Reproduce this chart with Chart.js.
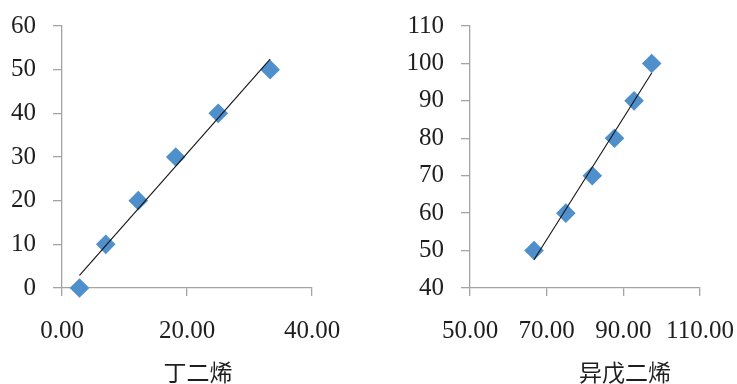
<!DOCTYPE html>
<html>
<head>
<meta charset="utf-8">
<script src="https://cdn.jsdelivr.net/npm/chart.js@4/dist/chart.umd.min.js"></script>
<style>
  html, body { margin: 0; padding: 0; background: #fff; }
  #wrap { position: relative; width: 737px; height: 384px; overflow: hidden; }
  .panel { position: absolute; top: 0; }
</style>
</head>
<body>
<div id="wrap">
  <div class="panel" style="left:0;"><canvas id="c1" width="368" height="384"></canvas></div>
  <div class="panel" style="left:368px;"><canvas id="c2" width="369" height="384"></canvas></div>
</div>
<script>
// 丁二烯 panel
const butadieneX = [2.8, 7.0, 12.2, 18.2, 25.0, 33.3];
const butadieneY = [0, 10, 20, 30, 40, 50];
const butadieneTitle = '丁二烯';

// 异戊二烯 panel
const isopreneX = [66.7, 75.0, 81.9, 87.7, 92.8, 97.4];
const isopreneY = [50, 60, 70, 80, 90, 100];
const isopreneTitle = '异戊二烯';

const AXIS_GREY = '#a3a3a3';
const TEXT = '#1e1e1e';
const MARKER = '#4f8fcc';

// Least-squares linear trendline across the data range
function trend(xs, ys) {
  const n = xs.length;
  const mx = xs.reduce((a, b) => a + b, 0) / n;
  const my = ys.reduce((a, b) => a + b, 0) / n;
  let sxy = 0, sxx = 0;
  for (let i = 0; i < n; i++) {
    sxy += (xs[i] - mx) * (ys[i] - my);
    sxx += (xs[i] - mx) * (xs[i] - mx);
  }
  const k = sxy / sxx, b = my - k * mx;
  const x0 = Math.min(...xs), x1 = Math.max(...xs);
  return [{ x: x0, y: k * x0 + b }, { x: x1, y: k * x1 + b }];
}

// Draws the category name under the x axis
const axisNamePlugin = {
  id: 'axisName',
  afterDraw(chart, args, opts) {
    const { ctx, chartArea } = chart;
    ctx.save();
    ctx.font = '23px "Noto Sans CJK SC"';
    ctx.fillStyle = TEXT;
    ctx.textAlign = 'center';
    ctx.textBaseline = 'middle';
    const x = chartArea.left + (chartArea.right - chartArea.left) * opts.frac;
    ctx.fillText(opts.text, x, opts.y);
    ctx.restore();
  }
};

function makeChart(id, xs, ys, title, xr, yr, yAxisWidth, rightPad, topPad, titleFrac) {
  const pts = xs.map((x, i) => ({ x, y: ys[i] }));
  return new Chart(document.getElementById(id), {
    type: 'scatter',
    data: {
      datasets: [
        {
          data: trend(xs, ys),
          showLine: true,
          borderColor: '#111',
          borderWidth: 1.1,
          pointRadius: 0,
          clip: false,
          order: 0
        },
        {
          data: pts,
          pointStyle: 'rectRot',
          pointRadius: 9.8,
          pointHoverRadius: 9.8,
          backgroundColor: MARKER,
          borderColor: MARKER,
          borderWidth: 0,
          clip: false,
          order: 1
        }
      ]
    },
    options: {
      responsive: false,
      animation: false,
      devicePixelRatio: 1,
      layout: { padding: { left: 0, right: rightPad, top: topPad, bottom: 0 } },
      plugins: {
        legend: { display: false },
        tooltip: { enabled: false },
        axisName: { text: title, frac: titleFrac, y: 372 }
      },
      scales: {
        x: {
          type: 'linear',
          min: xr[0], max: xr[1],
          afterFit(s) { s.height = 96; s.paddingLeft = 0; s.paddingRight = 0; },
          border: { display: true, color: AXIS_GREY, width: 1.3 },
          grid: { drawOnChartArea: false, drawTicks: true, tickLength: 8, color: AXIS_GREY, lineWidth: 1.3 },
          ticks: {
            stepSize: xr[2],
            padding: 20,
            color: TEXT,
            maxRotation: 0,
            font: { family: '"Liberation Serif"', size: 25 },
            callback: v => Number(v).toFixed(2)
          }
        },
        y: {
          type: 'linear',
          min: yr[0], max: yr[1],
          afterFit(s) { s.width = yAxisWidth; s.paddingTop = 0; s.paddingBottom = 0; },
          border: { display: true, color: AXIS_GREY, width: 1.3 },
          grid: { drawOnChartArea: false, drawTicks: true, tickLength: 9, color: AXIS_GREY, lineWidth: 1.3 },
          ticks: {
            stepSize: yr[2],
            padding: 17,
            color: TEXT,
            font: { family: '"Liberation Serif"', size: 25 }
          }
        }
      }
    },
    plugins: [axisNamePlugin]
  });
}

makeChart('c1', butadieneX, butadieneY, butadieneTitle, [0, 40, 20], [0, 60, 10], 62, 56, 26, 0.544);
makeChart('c2', isopreneX, isopreneY, isopreneTitle, [50, 110, 20], [40, 110, 10], 102, 37, 26, 0.674);
</script>
</body>
</html>
